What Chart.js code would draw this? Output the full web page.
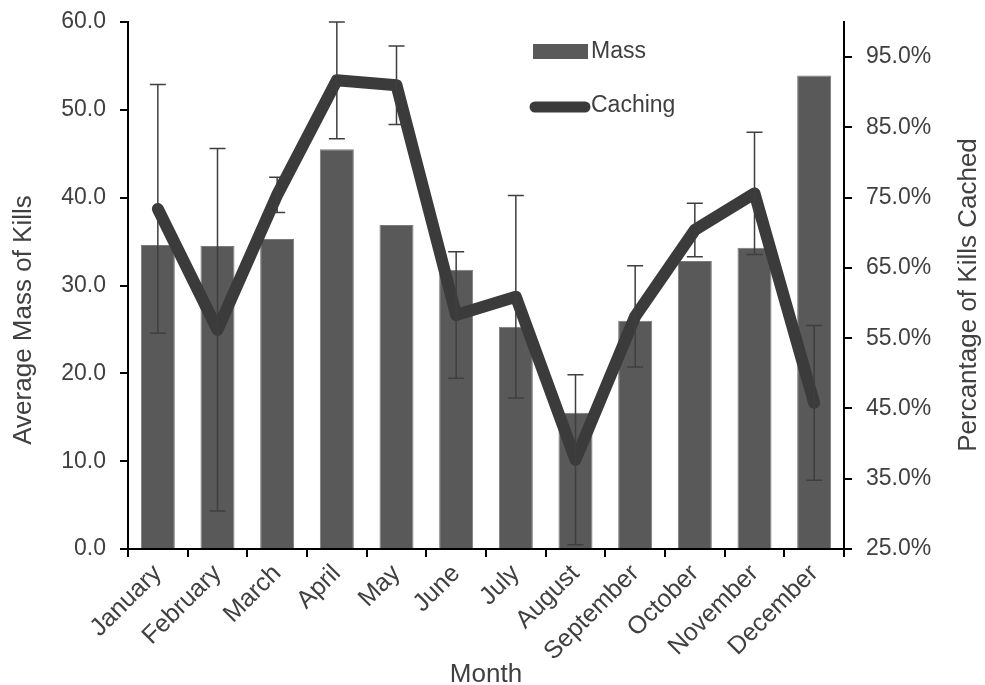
<!DOCTYPE html>
<html>
<head>
<meta charset="utf-8">
<title>Mass and caching of kills by month</title>
<script src="https://cdn.jsdelivr.net/npm/chart.js@4.4.1/dist/chart.umd.min.js"></script>
<style>
  body { margin: 0; background: #fff; }
  #wrap { width: 985px; height: 685px; }
</style>
</head>
<body>
<div id="wrap"><canvas id="killChart" width="985" height="685"></canvas></div>
<script>
// monthly data
const months = ['January', 'February', 'March', 'April', 'May', 'June', 'July',
                'August', 'September', 'October', 'November', 'December'];
const massValues = [34.6, 34.5, 35.3, 45.5, 36.9, 31.8, 25.3, 15.5, 26.0, 32.8, 34.3, 53.9];
const cachingValues = [73.4, 56.2, 75.4, 91.7, 91.0, 58.3, 60.9, 37.7, 58.1, 70.4, 75.6, 45.8];
const cachingErrors = [17.7, 25.8, 2.5, 8.3, 5.6, 9.0, 14.4, 12.1, 7.2, 3.8, 8.7, 11.0];
const percentTicks = [25, 35, 45, 55, 65, 75, 85, 95];

const FONT = 'Liberation Sans, Arial, sans-serif';
const TEXT = '#404040';
const BAR = '#595959';
const LINE = '#3b3b3b';

// +/- error bars on the caching line
const errorBars = {
    id: 'errorBars',
    afterDatasetsDraw(chart) {
        const ctx = chart.ctx;
        const meta = chart.getDatasetMeta(0);
        const y2 = chart.scales.y2;
        ctx.save();
        ctx.strokeStyle = '#3f3f3f';
        ctx.lineWidth = 1.5;
        meta.data.forEach((pt, i) => {
            const v = cachingValues[i], e = cachingErrors[i];
            const top = y2.getPixelForValue(v + e);
            const bot = y2.getPixelForValue(v - e);
            ctx.beginPath();
            ctx.moveTo(pt.x, top); ctx.lineTo(pt.x, bot);
            ctx.moveTo(pt.x - 8, top); ctx.lineTo(pt.x + 8, top);
            ctx.moveTo(pt.x - 8, bot); ctx.lineTo(pt.x + 8, bot);
            ctx.stroke();
        });
        ctx.restore();
    }
};

// legend inside the plot + the two vertical axis titles
const extras = {
    id: 'extras',
    afterDraw(chart) {
        const ctx = chart.ctx;
        const a = chart.chartArea;
        ctx.save();
        ctx.font = '23px ' + FONT;
        ctx.fillStyle = TEXT;
        ctx.textBaseline = 'middle';

        const lx = a.left + 405;
        ctx.fillStyle = BAR;
        ctx.fillRect(lx, a.top + 22, 55, 15);
        ctx.fillStyle = TEXT;
        ctx.fillText('Mass', lx + 58, a.top + 30);

        ctx.strokeStyle = LINE;
        ctx.lineWidth = 11;
        ctx.lineCap = 'round';
        ctx.beginPath();
        ctx.moveTo(lx + 2, a.top + 85);
        ctx.lineTo(lx + 52, a.top + 85);
        ctx.stroke();
        ctx.fillText('Caching', lx + 58, a.top + 84);

        ctx.font = '26px ' + FONT;
        ctx.textAlign = 'center';
        ctx.translate(24, 320);
        ctx.rotate(-Math.PI / 2);
        ctx.fillText('Average Mass of Kills', 0, 0);
        ctx.setTransform(1, 0, 0, 1, 0, 0);
        ctx.translate(969, 295);
        ctx.rotate(-Math.PI / 2);
        ctx.fillText('Percantage of Kills Cached', 0, 0);
        ctx.restore();
    }
};

// pin the y axes' width and drop the label overhang so the plot starts at the padding
function fitY(width) {
    return s => {
        s.width = width;
        s.paddingTop = 0;
        s.paddingBottom = 0;
    };
}

const ctx = document.getElementById('killChart').getContext('2d');
const killChart = new Chart(ctx, {
    data: {
        labels: months,
        datasets: [
            {
                type: 'line',
                label: 'Caching',
                data: cachingValues,
                yAxisID: 'y2',
                order: 0,
                borderColor: LINE,
                borderWidth: 12,
                borderCapStyle: 'round',
                borderJoinStyle: 'round',
                pointRadius: 0,
                tension: 0,
                fill: false
            },
            {
                type: 'bar',
                label: 'Mass',
                data: massValues,
                yAxisID: 'y',
                order: 1,
                backgroundColor: BAR,
                borderColor: '#7a7a7a',
                borderWidth: 1,
                barPercentage: 0.57,
                categoryPercentage: 1
            }
        ]
    },
    options: {
        responsive: false,
        devicePixelRatio: 1,
        animation: false,
        layout: { padding: { top: 22 } },
        plugins: {
            legend: { display: false },
            tooltip: { enabled: false }
        },
        scales: {
            x: {
                offset: true,
                grid: { offset: true, drawOnChartArea: false, drawTicks: true, tickLength: 8, color: '#000', lineWidth: 2 },
                border: { color: '#000', width: 2 },
                ticks: { color: TEXT, font: { family: FONT, size: 25 }, maxRotation: 45, minRotation: 45, padding: 2 },
                title: { display: true, text: 'Month', color: TEXT, font: { family: FONT, size: 26, lineHeight: 0.8 }, padding: 0 },
                afterFit: s => { s.height = 136; }
            },
            y: {
                position: 'left',
                min: 0,
                max: 60,
                grid: { drawOnChartArea: false, drawTicks: true, tickLength: 8, color: '#000', lineWidth: 2 },
                border: { color: '#000', width: 2 },
                ticks: { stepSize: 10, color: TEXT, padding: 14, font: { family: FONT, size: 23 },
                         callback: v => v.toFixed(1) },
                afterFit: fitY(128)
            },
            y2: {
                position: 'right',
                min: 25,
                max: 100,
                grid: { drawOnChartArea: false, drawTicks: true, tickLength: 8, color: '#000', lineWidth: 2 },
                border: { color: '#000', width: 2 },
                ticks: { color: TEXT, padding: 14, font: { family: FONT, size: 23 },
                         callback: v => v.toFixed(1) + '%' },
                afterBuildTicks: s => { s.ticks = percentTicks.map(v => ({ value: v })); },
                afterFit: fitY(141)
            }
        }
    },
    plugins: [errorBars, extras]
});
</script>
</body>
</html>
